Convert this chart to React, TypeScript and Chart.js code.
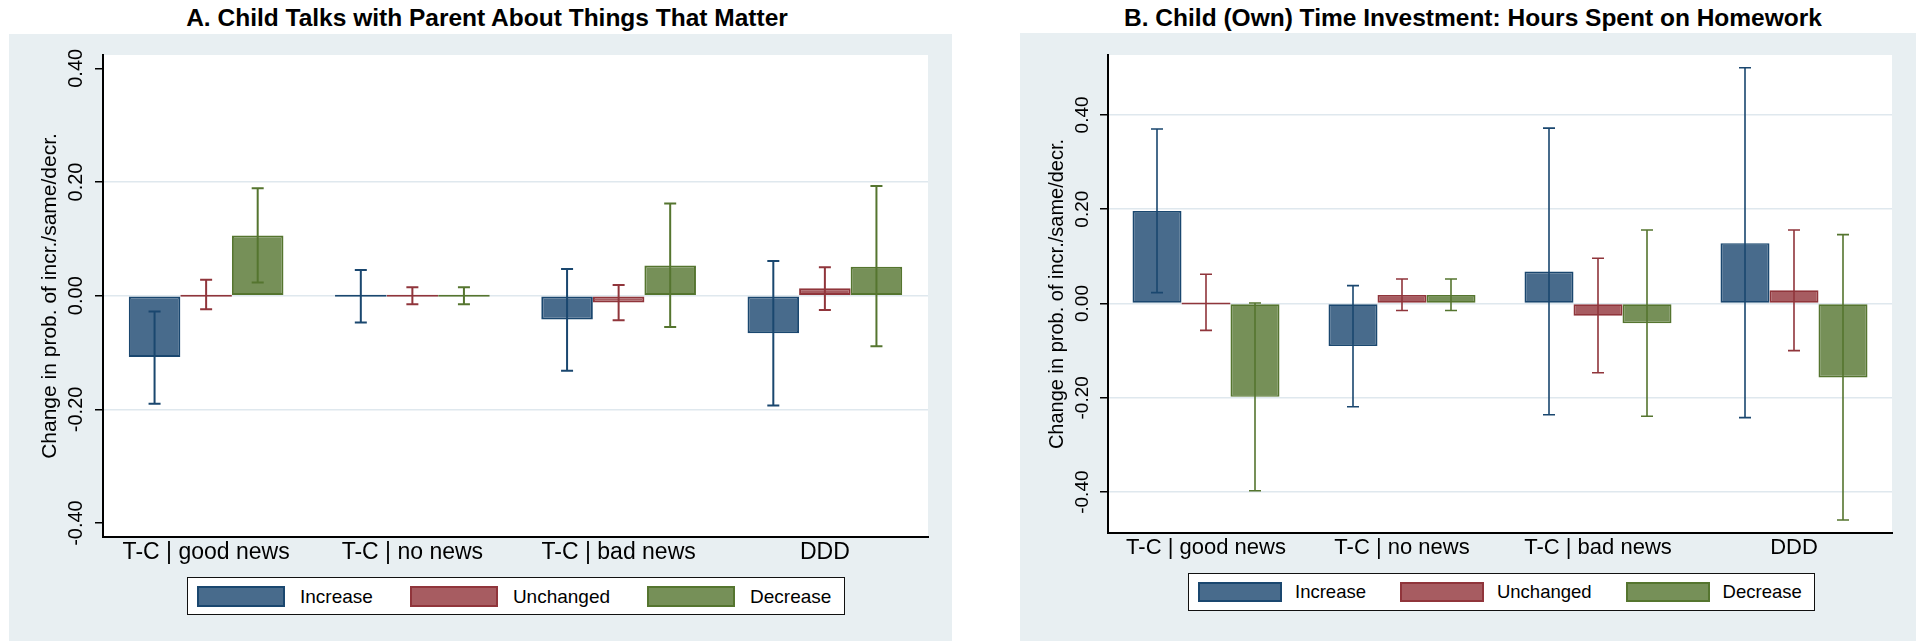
import React, { useEffect, useRef } from "react";
import { Chart, registerables } from "chart.js";

Chart.register(...registerables);

// ---------------- DATA ----------------
const categories = ["T-C | good news", "T-C | no news", "T-C | bad news", "DDD"];
const seriesLabels = ["Increase", "Unchanged", "Decrease"];

// Panel A: Child talks with parent about things that matter
const aIncrease = [-0.108, 0.0, -0.042, -0.066];
const aIncreaseLo = [-0.19, -0.047, -0.132, -0.193];
const aIncreaseHi = [-0.028, 0.045, 0.047, 0.061];
const aUnchanged = [0.0, 0.0, -0.012, 0.013];
const aUnchangedLo = [-0.024, -0.015, -0.043, -0.025];
const aUnchangedHi = [0.028, 0.015, 0.019, 0.05];
const aDecrease = [0.106, 0.0, 0.053, 0.051];
const aDecreaseLo = [0.023, -0.015, -0.055, -0.089];
const aDecreaseHi = [0.189, 0.015, 0.162, 0.193];
const aTicks = [-0.4, -0.2, 0, 0.2, 0.4];
const aTickLabels = ["-0.40", "-0.20", "0.00", "0.20", "0.40"];

// Panel B: Child (own) time investment: hours spent on homework
const bIncrease = [0.196, -0.09, 0.068, 0.128];
const bIncreaseLo = [0.023, -0.219, -0.236, -0.242];
const bIncreaseHi = [0.37, 0.038, 0.372, 0.5];
const bUnchanged = [0.0, 0.018, -0.026, 0.028];
const bUnchangedLo = [-0.057, -0.015, -0.147, -0.1];
const bUnchangedHi = [0.062, 0.052, 0.096, 0.156];
const bDecrease = [-0.198, 0.018, -0.042, -0.157];
const bDecreaseLo = [-0.397, -0.015, -0.239, -0.459];
const bDecreaseHi = [0.001, 0.052, 0.156, 0.146];
const bTicks = [-0.4, -0.2, 0, 0.2, 0.4];
const bTickLabels = ["-0.40", "-0.20", "0.00", "0.20", "0.40"];

const yTitle = "Change in prob. of incr./same/decr.";
const titleA = "A. Child Talks with Parent About Things That Matter";
const titleB = "B. Child (Own) Time Investment: Hours Spent on Homework";

// ---------------- STYLE ----------------
const FONT = '"Liberation Sans", Arial, Helvetica, sans-serif';
const fills = ["rgb(72,107,140)", "rgb(167,92,97)", "rgb(118,144,88)"];
const borders = ["rgb(26,71,111)", "rgb(144,53,59)", "rgb(85,117,47)"];
const BG = "#e8eff2";
const GRID = "#dfe8ee";

type PanelCfg = {
  left: number;
  top: number;
  w: number;
  h: number;
  pad: { left: number; right: number; top: number; bottom: number };
  yWidth: number;
  xHeight: number;
  yMin: number;
  yMax: number;
  ticks: number[];
  tickLabels: string[];
  gridAll: boolean;
  values: number[][];
  lo: number[][];
  hi: number[][];
  catFont: number;
  tickFont: number;
  titleFont: number;
  tickOffset: number;
  titleOffset: number;
  barBorder: number;
  errWidth: number;
};

function ChartPanel({ cfg }: { cfg: PanelCfg }) {
  const ref = useRef<HTMLCanvasElement>(null);
  useEffect(() => {
    const canvas = ref.current!;
    const plugin = {
      id: "stataDecor",
      beforeDraw(chart: any) {
        const { ctx, chartArea } = chart;
        ctx.save();
        ctx.fillStyle = "#ffffff";
        ctx.fillRect(chartArea.left, chartArea.top, chartArea.right - chartArea.left, chartArea.bottom - chartArea.top);
        ctx.restore();
      },
      afterDatasetsDraw(chart: any) {
        const { ctx, scales } = chart;
        const ys = scales.y;
        ctx.save();
        chart.data.datasets.forEach((ds: any, i: number) => {
          const meta = chart.getDatasetMeta(i);
          ctx.strokeStyle = borders[i];
          ctx.lineWidth = cfg.errWidth;
          meta.data.forEach((el: any, j: number) => {
            const x = el.x;
            const y1 = ys.getPixelForValue(ds.errLo[j]);
            const y2 = ys.getPixelForValue(ds.errHi[j]);
            ctx.beginPath();
            ctx.moveTo(x, y1);
            ctx.lineTo(x, y2);
            ctx.moveTo(x - 6, y1);
            ctx.lineTo(x + 6, y1);
            ctx.moveTo(x - 6, y2);
            ctx.lineTo(x + 6, y2);
            ctx.stroke();
          });
        });
        ctx.restore();
      },
      afterDraw(chart: any) {
        const { ctx, chartArea, scales } = chart;
        const ys = scales.y;
        ctx.save();
        ctx.fillStyle = "#000";
        ctx.textAlign = "center";
        ctx.textBaseline = "middle";
        ctx.font = `${cfg.tickFont}px ${FONT}`;
        cfg.ticks.forEach((v, k) => {
          const y = ys.getPixelForValue(v);
          ctx.save();
          ctx.translate(chartArea.left - cfg.tickOffset, y);
          ctx.rotate(-Math.PI / 2);
          ctx.fillText(cfg.tickLabels[k], 0, 0);
          ctx.restore();
        });
        ctx.font = `${cfg.titleFont}px ${FONT}`;
        ctx.translate(chartArea.left - cfg.titleOffset, (chartArea.top + chartArea.bottom) / 2);
        ctx.rotate(-Math.PI / 2);
        ctx.fillText(yTitle, 0, 0);
        ctx.restore();
      },
    };

    const chart = new Chart(canvas, {
      type: "bar",
      data: {
        labels: categories,
        datasets: seriesLabels.map((label, i) => ({
          label,
          data: cfg.values[i],
          errLo: cfg.lo[i],
          errHi: cfg.hi[i],
          backgroundColor: fills[i],
          borderColor: borders[i],
          borderWidth: cfg.barBorder,
          borderSkipped: false,
          minBarLength: 2,
          categoryPercentage: 0.75,
          barPercentage: 1.0,
        })) as any,
      },
      options: {
        responsive: false,
        maintainAspectRatio: false,
        animation: false,
        events: [],
        layout: { padding: cfg.pad },
        plugins: {
          legend: { display: false },
          title: { display: false },
          tooltip: { enabled: false },
        },
        scales: {
          x: {
            type: "category",
            offset: true,
            grid: { display: false, drawTicks: false },
            border: { display: true, color: "#000", width: 2 },
            ticks: {
              color: "#000",
              font: { family: FONT, size: cfg.catFont },
              padding: 2,
              maxRotation: 0,
              minRotation: 0,
              autoSkip: false,
            },
            afterFit: (s: any) => {
              s.height = cfg.xHeight;
            },
          },
          y: {
            type: "linear",
            min: cfg.yMin,
            max: cfg.yMax,
            afterBuildTicks: (s: any) => {
              s.ticks = cfg.ticks.map((v) => ({ value: v }));
            },
            grid: {
              color: (c: any) =>
                cfg.gridAll || Math.abs(c.tick?.value ?? 0) < 0.3 ? GRID : "rgba(0,0,0,0)",
              lineWidth: 1.5,
              drawTicks: true,
              tickLength: 8,
              tickColor: "#000",
              tickWidth: 1.5,
            },
            border: { display: true, color: "#000", width: 2 },
            ticks: { display: false },
            afterFit: (s: any) => {
              s.width = cfg.yWidth;
            },
          },
        },
      } as any,
      plugins: [plugin],
    });
    return () => chart.destroy();
  }, []);
  return (
    <canvas
      ref={ref}
      width={cfg.w}
      height={cfg.h}
      style={{ position: "absolute", left: cfg.left, top: cfg.top, width: cfg.w, height: cfg.h }}
    />
  );
}

function Legend({
  left,
  top,
  height,
  swW,
  swH,
  font,
  textGap,
  itemGap,
  padL,
  padR,
}: {
  left: number;
  top: number;
  height: number;
  swW: number;
  swH: number;
  font: number;
  textGap: number;
  itemGap: number;
  padL: number;
  padR: number;
}) {
  return (
    <div
      style={{
        position: "absolute",
        left,
        top,
        height,
        boxSizing: "border-box",
        border: "1.5px solid #111",
        background: "#fff",
        display: "flex",
        alignItems: "center",
        paddingLeft: padL,
        paddingRight: padR,
        whiteSpace: "nowrap",
      }}
    >
      {seriesLabels.map((lab, i) => (
        <div key={lab} style={{ display: "flex", alignItems: "center", marginLeft: i ? itemGap : 0 }}>
          <div
            style={{
              width: swW,
              height: swH,
              boxSizing: "border-box",
              background: fills[i],
              border: `2px solid ${borders[i]}`,
            }}
          />
          <span style={{ marginLeft: textGap, fontFamily: FONT, fontSize: font, color: "#000", lineHeight: 1 }}>
            {lab}
          </span>
        </div>
      ))}
    </div>
  );
}

const cfgA: PanelCfg = {
  left: 9,
  top: 34,
  w: 943,
  h: 607,
  pad: { left: 4, right: 24, top: 21, bottom: 44 },
  yWidth: 90,
  xHeight: 60,
  yMin: -0.4245,
  yMax: 0.4234,
  ticks: aTicks,
  tickLabels: aTickLabels,
  gridAll: false,
  values: [aIncrease, aUnchanged, aDecrease],
  lo: [aIncreaseLo, aUnchangedLo, aDecreaseLo],
  hi: [aIncreaseHi, aUnchangedHi, aDecreaseHi],
  catFont: 23,
  tickFont: 20,
  titleFont: 21,
  tickOffset: 27,
  titleOffset: 53,
  barBorder: 2,
  errWidth: 2,
};

const cfgB: PanelCfg = {
  left: 1020,
  top: 33,
  w: 896,
  h: 608,
  pad: { left: 4, right: 24, top: 22, bottom: 48 },
  yWidth: 84,
  xHeight: 60,
  yMin: -0.4867,
  yMax: 0.527,
  ticks: bTicks,
  tickLabels: bTickLabels,
  gridAll: true,
  values: [bIncrease, bUnchanged, bDecrease],
  lo: [bIncreaseLo, bUnchangedLo, bDecreaseLo],
  hi: [bIncreaseHi, bUnchangedHi, bDecreaseHi],
  catFont: 22,
  tickFont: 19,
  titleFont: 20,
  tickOffset: 25,
  titleOffset: 51,
  barBorder: 1.7,
  errWidth: 1.6,
};

export default function App() {
  const titleStyle = (cx: number): React.CSSProperties => ({
    position: "absolute",
    left: cx - 500,
    width: 1000,
    top: 3,
    lineHeight: "30px",
    textAlign: "center",
    fontFamily: FONT,
    fontWeight: "bold",
    fontSize: 24.5,
    color: "#000",
    whiteSpace: "nowrap",
  });
  return (
    <div style={{ position: "absolute", left: 0, top: 0, width: 1923, height: 641, background: "#fff", overflow: "hidden" }}>
      <div style={{ position: "absolute", left: 9, top: 34, width: 943, height: 607, background: BG }} />
      <div style={{ position: "absolute", left: 1020, top: 33, width: 896, height: 608, background: BG }} />
      <div style={titleStyle(487)}>{titleA}</div>
      <div style={titleStyle(1473)}>{titleB}</div>
      <ChartPanel cfg={cfgA} />
      <ChartPanel cfg={cfgB} />
      <Legend left={187} top={577} height={38} swW={88} swH={21} font={19} textGap={15} itemGap={37} padL={9} padR={13} />
      <Legend left={1188} top={573} height={38} swW={84} swH={20} font={18.5} textGap={13} itemGap={34} padL={9} padR={12} />
    </div>
  );
}
